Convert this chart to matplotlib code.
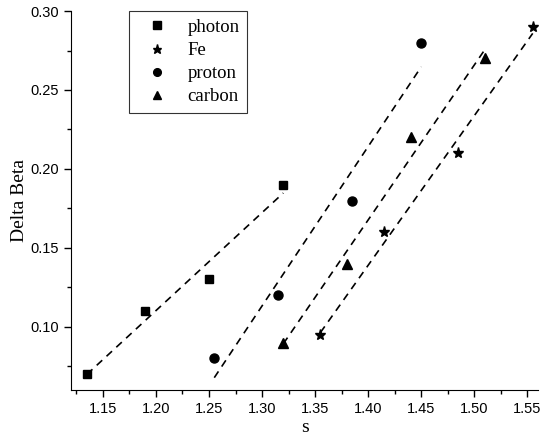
import numpy as np
import matplotlib
matplotlib.use("Agg")
import matplotlib.pyplot as plt
from matplotlib.ticker import MultipleLocator, FormatStrFormatter

photon_x = [1.135, 1.19, 1.25, 1.32]
photon_y = [0.07, 0.11, 0.13, 0.19]
fe_x = [1.355, 1.415, 1.485, 1.555]
fe_y = [0.095, 0.16, 0.21, 0.29]
proton_x = [1.255, 1.315, 1.385, 1.45]
proton_y = [0.08, 0.12, 0.18, 0.28]
carbon_x = [1.32, 1.38, 1.44, 1.51]
carbon_y = [0.09, 0.14, 0.22, 0.27]

series = [
    ("photon", photon_x, photon_y, "s", 6),
    ("Fe", fe_x, fe_y, "*", 8),
    ("proton", proton_x, proton_y, "o", 6.5),
    ("carbon", carbon_x, carbon_y, "^", 7),
]

fig = plt.figure(figsize=(5.44, 4.41), dpi=100)
ax = fig.add_axes([0.1305, 0.1156, 0.8585, 0.8594])

for name, xs, ys, m, ms in series:
    xs = np.array(xs); ys = np.array(ys)
    ax.plot(xs, ys, linestyle="none", marker=m, color="black", markersize=ms, label=name)
    k, b = np.polyfit(xs, ys, 1)
    xl = np.array([xs.min(), xs.max()])
    ax.plot(xl, k * xl + b, color="black", linestyle=(0, (4.5, 3.5)), linewidth=1.2)

ax.set_xlim(1.12, 1.56)
ax.set_ylim(0.06, 0.30)
ax.xaxis.set_major_locator(MultipleLocator(0.05))
ax.xaxis.set_minor_locator(MultipleLocator(0.025))
ax.yaxis.set_major_locator(MultipleLocator(0.05))
ax.yaxis.set_minor_locator(MultipleLocator(0.025))
ax.xaxis.set_major_formatter(FormatStrFormatter("%.2f"))
ax.yaxis.set_major_formatter(FormatStrFormatter("%.2f"))
ax.spines["top"].set_visible(False)
ax.spines["right"].set_visible(False)
ax.tick_params(which="major", direction="out", length=5, width=1, labelsize=10.5)
ax.tick_params(which="minor", direction="out", length=3, width=1)
for lab in ax.get_xticklabels() + ax.get_yticklabels():
    lab.set_family("Liberation Sans")

ax.set_xlabel("s", family="Liberation Serif", fontsize=14, labelpad=2)
ax.set_ylabel("Delta Beta", family="Liberation Serif", fontsize=14, labelpad=2)

leg = ax.legend(loc="upper left", bbox_to_anchor=(0.124, 1.0), borderaxespad=0,
                prop={"family": "Liberation Serif", "size": 13.5}, fancybox=False,
                frameon=True, edgecolor="black", handletextpad=0.5, handlelength=2.2,
                labelspacing=0.32, borderpad=0.42, markerscale=0.85)
leg.get_frame().set_linewidth(0.8)

fig.savefig("out.png", dpi=100)
